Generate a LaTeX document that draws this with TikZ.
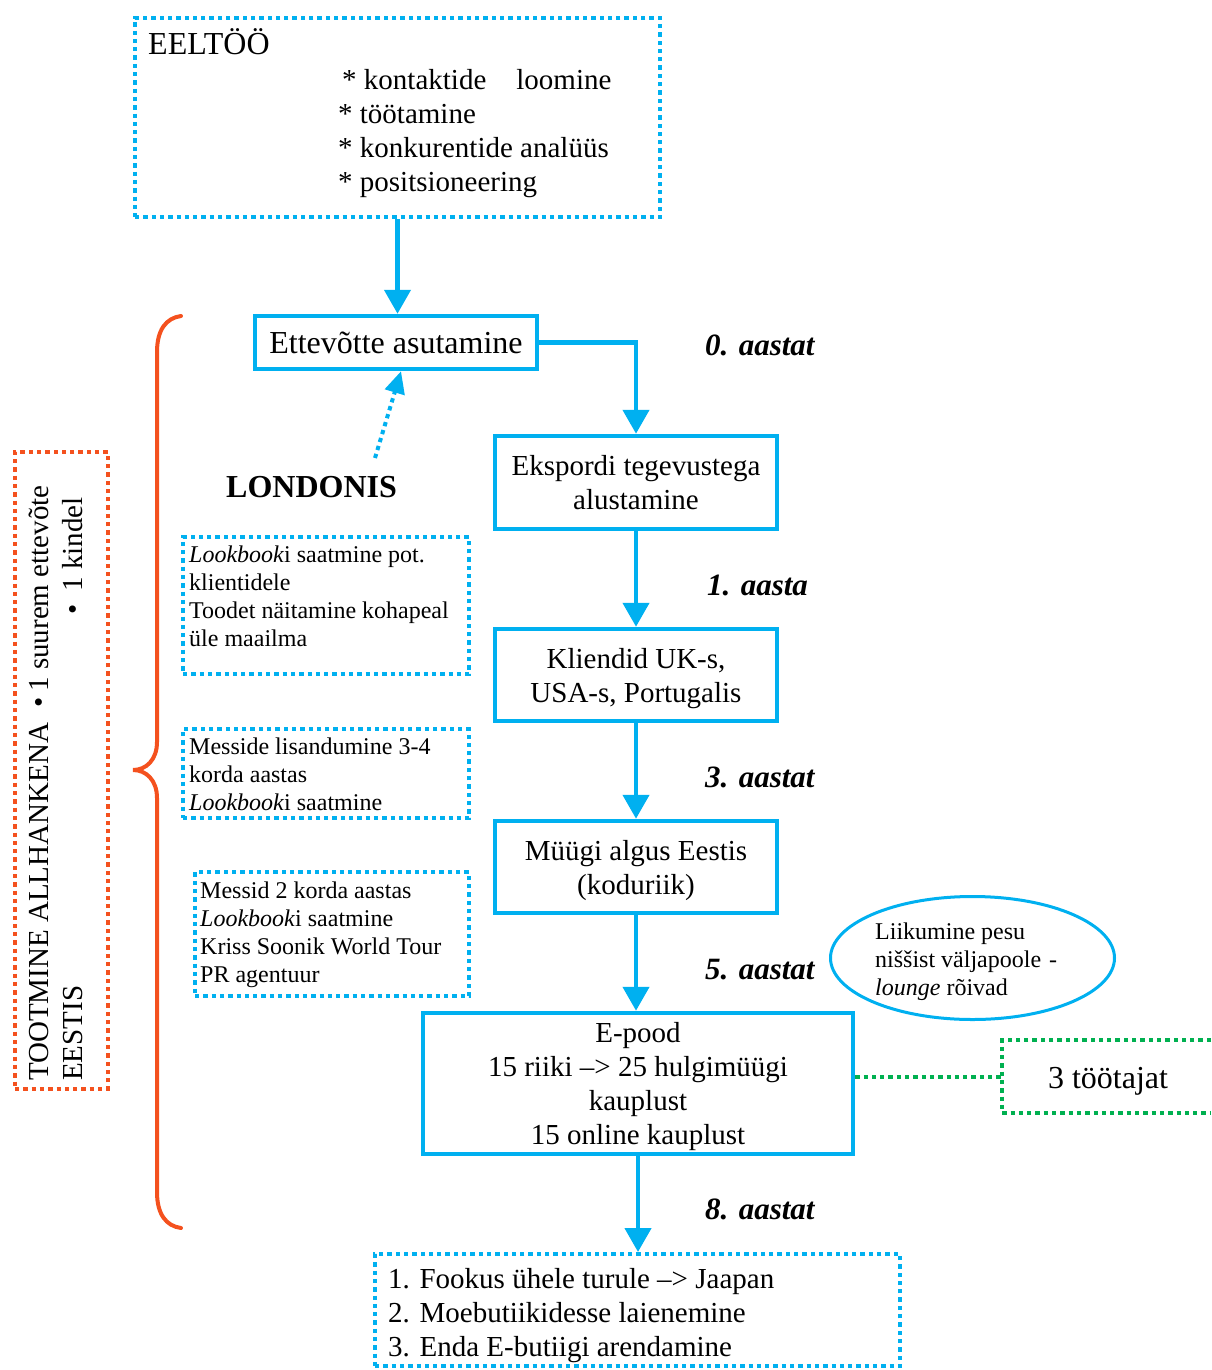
\documentclass[tikz,border=0pt]{standalone}
\usepackage{fontspec}
\setmainfont{Liberation Serif}
\usetikzlibrary{arrows.meta,shapes.geometric}
\definecolor{flowblue}{HTML}{00B0F0}
\definecolor{bracered}{HTML}{F4511E}
\definecolor{staffgreen}{HTML}{00B050}

\tikzset{
  big/.style={font=\fontsize{32pt}{34pt}\selectfont},
  mid/.style={font=\fontsize{29pt}{34pt}\selectfont},
  bigbold/.style={font=\fontsize{32pt}{34pt}\selectfont\bfseries},
  small/.style={font=\fontsize{24pt}{27.7pt}\selectfont},
  stepbox/.style={draw=flowblue, line width=4.5pt, inner sep=0pt, align=center, text depth=0pt, mid},
  dotbox/.style={draw=flowblue, line width=4pt, dash pattern=on 4.3pt off 4pt, inner sep=0pt},
  flowarrow/.style={draw=flowblue, line width=4.5pt, -{Triangle[width=26pt,length=24pt]}},
  dotarrow/.style={draw=flowblue, line width=4pt, dash pattern=on 4.3pt off 4pt, -{Triangle[width=20pt,length=22pt]}},
  yearlabel/.style={font=\fontsize{31pt}{34pt}\selectfont\bfseries\itshape, anchor=base west, inner sep=0pt},
  txt/.style={inner sep=0pt, align=left, anchor=base west},
  uptext/.style={mid, inner sep=0pt, rotate=90, anchor=base west},
}

\begin{document}
\begin{tikzpicture}[x=1pt,y=-1pt]
\useasboundingbox (0,0) rectangle (1211,1370);

% preparatory work (multi-line texts are placed by their last baseline)
\node[dotbox, minimum width=525pt, minimum height=199pt] (eel) at (397.5,117.5) {};
\node[big, txt] (eelTitle) at (148,55) {EELTÖÖ};
\node[mid, txt] (eelList) at (338,191) {\hspace{4pt}* kontaktide\hspace{30pt}loomine\\* töötamine\\* konkurentide analüüs\\* positsioneering};

% main steps
\node[stepbox, big, minimum width=282pt, minimum height=53pt] (ett) at (396,342.5) {Ettevõtte asutamine};
\node[stepbox, minimum width=282pt, minimum height=93pt] (eks) at (636,482.5) {Ekspordi tegevustega\\alustamine};
\node[stepbox, minimum width=282pt, minimum height=92pt] (kli) at (636,675) {Kliendid UK-s,\\USA-s, Portugalis};
\node[stepbox, minimum width=282pt, minimum height=92pt] (mue) at (636,867) {Müügi algus Eestis\\(koduriik)};
\node[stepbox, minimum width=430pt, minimum height=141pt] (epood) at (638,1083.5) {E-pood\\15 riiki –> 25 hulgimüügi\\kauplust\\15 online kauplust};
\node[dotbox, minimum width=525pt, minimum height=112pt] (plan) at (637.5,1310) {};
\node[mid, txt] (planText) at (388,1356) {1. Fookus ühele turule –> Jaapan\\2. Moebutiikidesse laienemine\\3. Enda E-butiigi arendamine};

% year labels
\node[yearlabel] (y0) at (705,355) {0. aastat};
\node[yearlabel] (y1) at (707,595) {1. aasta};
\node[yearlabel] (y3) at (705,787) {3. aastat};
\node[yearlabel] (y5) at (705,979) {5. aastat};
\node[yearlabel] (y8) at (705,1219) {8. aastat};

% connectors of the main flow
\draw[flowarrow] (eel.south) -- (eel.south |- ett.north);
\draw[flowarrow] (ett.east) -| (eks.north);
\draw[flowarrow] (eks.south) -- (kli.north);
\draw[flowarrow] (kli.south) -- (mue.north);
\draw[flowarrow] (mue.south) -- (mue.south |- epood.north);
\draw[flowarrow] (epood.south) -- (epood.south |- plan.north);

% London
\node[bigbold, inner sep=0pt, anchor=base west] (lon) at (226,497) {LONDONIS};
\coordinate (lonTail) at (375,458);
\draw[dotarrow] (lonTail) -- ([xshift=5pt]ett.south);

% activity boxes
\node[dotbox, minimum width=286pt, minimum height=137pt] (lookA) at (326,605.5) {};
\node[small, txt] (lookAText) at (189,646) {\textit{Lookbook}i saatmine pot.\\klientidele\\Toodet näitamine kohapeal\\üle maailma};
\node[dotbox, minimum width=286pt, minimum height=89pt] (fairB) at (326,773.5) {};
\node[small, txt] (fairBText) at (189,810) {Messide lisandumine 3-4\\korda aastas\\\textit{Lookbook}i saatmine};
\node[dotbox, minimum width=274pt, minimum height=124pt] (fairC) at (332,934) {};
\node[small, txt] (fairCText) at (200,982) {Messid 2 korda aastas\\\textit{Lookbook}i saatmine\\Kriss Soonik World Tour\\PR agentuur};

% niche ellipse
\node[ellipse, draw=flowblue, line width=3pt, minimum width=284pt, minimum height=123pt, inner sep=0pt] (niche) at (972.5,958) {};
\node[small, txt] (nicheText) at (875,995) {Liikumine pesu\\niššist väljapoole\hspace{8pt}-\\\textit{lounge} rõivad};

% staff box, open on the right
\node[minimum width=209pt, minimum height=73pt, inner sep=0pt, outer sep=0pt] (staff) at (1106.5,1076.5) {};
\node[big, inner sep=0pt, anchor=base] (staffText) at (1108,1088) {3 töötajat};
\draw[staffgreen, line width=4pt, dash pattern=on 4.3pt off 4pt] (staff.north east) -- (staff.north west) -- (staff.south west) -- (staff.south east);
\draw[staffgreen, line width=4pt, dash pattern=on 4.3pt off 4pt] (staff.west -| epood.east) -- (staff.west);

% production box with rotated text
\node[draw=bracered, line width=4pt, dash pattern=on 4.3pt off 4pt, minimum width=93pt, minimum height=637pt, inner sep=0pt] (made) at (61.5,770.5) {};
\node[uptext] (madeA) at (48,1081) {TOOTMINE ALLHANKENA};
\node[uptext] (madeB) at (48,708) {•\hspace{6pt}1 suurem ettevõte};
\node[uptext] (madeC) at (82,1081) {EESTIS};
\node[uptext] (madeD) at (82,615) {•\hspace{13pt}1 kindel};

% brace
\draw[bracered, line width=4pt, line cap=round]
  (181,316) .. controls (166,318) and (157,330) .. (157,352)
  -- (157,742) .. controls (157,760) and (146,770) .. (133,770)
  .. controls (146,770) and (157,780) .. (157,798)
  -- (157,1192) .. controls (157,1214) and (166,1226) .. (181,1228);
\end{tikzpicture}
\end{document}
